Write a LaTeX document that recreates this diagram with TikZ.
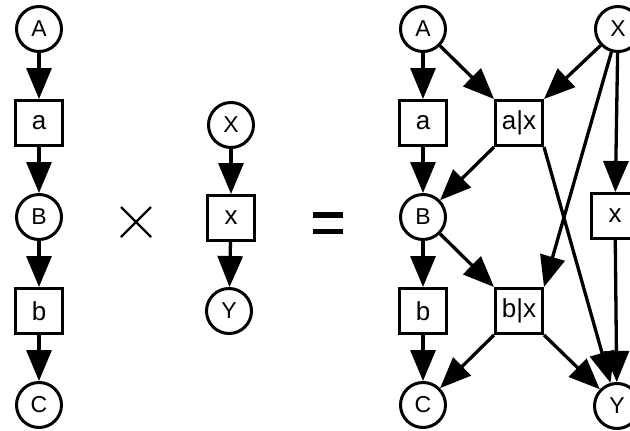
\documentclass[tikz,border=0pt]{standalone}
\usepackage{fontspec}
\setmainfont{Liberation Sans}
\usetikzlibrary{arrows.meta}
\tikzset{
  st/.style={circle, draw, line width=3pt, minimum size=45pt, inner sep=0pt,
    font=\fontsize{23}{23}\selectfont},
  tr/.style={rectangle, draw, line width=3pt, minimum width=47pt, minimum height=45pt,
    inner sep=0pt, font=\fontsize{26}{26}\selectfont},
  ar/.style={line width=3.3pt, -{Triangle[length=31pt,width=25pt]}},
}
\begin{document}
\begin{tikzpicture}[x=1pt,y=-1pt]
\useasboundingbox (0,0) rectangle (630,431);
\clip (0,0) rectangle (630,431);
\fill[white] (0,0) rectangle (630,431);
% left net
\node[st] (lA) at (39,29) {A};
\node[tr] (la) at (39,123) {a};
\node[st] (lB) at (39,217) {B};
\node[tr] (lb) at (39,311) {b};
\node[st] (lC) at (39,405) {C};
\draw[ar] (lA) -- (la);
\draw[ar] (la) -- (lB);
\draw[ar] (lB) -- (lb);
\draw[ar] (lb) -- (lC);
% middle net
\node[st] (mX) at (231,125) {X};
\node[tr] (mx) at (231,218) {x};
\node[st] (mY) at (229,311) {Y};
\draw[ar] (mX) -- (mx);
\draw[ar] (mx) -- (mY);
% operators
\draw[line width=2.4pt] (121,207) -- (151,237) (121,237) -- (151,207);
\fill (313,212) rectangle (343,217.5);
\fill (313,228.5) rectangle (343,234);
% product net
\node[st] (A) at (423,29) {A};
\node[tr] (a) at (423,123) {a};
\node[st] (B) at (423,217) {B};
\node[tr] (b) at (423,311) {b};
\node[st] (C) at (423,405) {C};
\node[tr] (ax) at (519,123) {a|x};
\node[tr] (bx) at (519,311) {b|x};
\node[st] (X) at (618,29) {X};
\node[tr] (x) at (615,216) {x};
\node[st] (Y) at (617,406) {Y};
\draw[ar] (A) -- (a);
\draw[ar] (a) -- (B);
\draw[ar] (B) -- (b);
\draw[ar] (b) -- (C);
\draw[ar] (A) -- (ax.north west);
\draw[ar] (X) -- (ax.north east);
\draw[ar] (ax.south west) -- (B);
\draw[ar] (B) -- (bx.north west);
\draw[ar] (X) -- (bx.north east);
\draw[ar] (ax.south east) -- (Y);
\draw[ar] (X) -- (x);
\draw[ar] (x) -- (Y);
\draw[ar] (bx.south west) -- (C);
\draw[ar] (bx.south east) -- (Y);
\end{tikzpicture}
\end{document}
